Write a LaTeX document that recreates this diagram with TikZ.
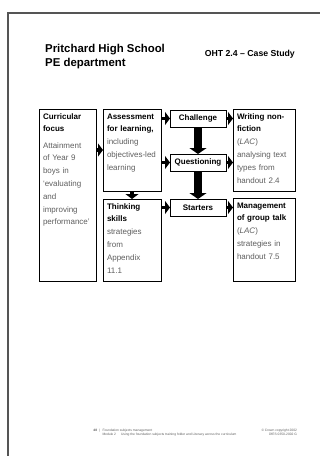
\documentclass[tikz,border=0pt]{standalone}
\usepackage{fontspec}
\setmainfont{Liberation Sans}
\usetikzlibrary{positioning,arrows.meta}
\definecolor{txtgray}{HTML}{5E5E5E}
\definecolor{framegray}{HTML}{555555}
\newcommand\boxhead[1]{\textcolor{black}{\textbf{#1}}}

\begin{document}
\begin{tikzpicture}[
    x=1pt, y=1pt,
    node distance=7pt and 7pt,
 mybox/.style = {
        draw, rectangle, align=left, line width=0.8pt,
        font=\fontsize{8}{12.8}\selectfont, text=txtgray,
        inner xsep=4pt, inner ysep=4pt, outer sep=0pt,
        text height=6pt, anchor=north west},
 midbox/.style = {
        draw, rectangle, align=center, line width=0.8pt,
        font=\fontsize{8}{10}\selectfont\bfseries,
        text width=48pt, minimum height=17pt,
        inner xsep=4pt, inner ysep=0pt, outer sep=0pt},
 foot/.style = {
        font=\fontsize{3.3}{4.2}\selectfont, text=txtgray,
        inner sep=0pt, outer sep=0pt},
 arrow/.style = {line width=3.5pt,-{Triangle[length=5pt,width=13pt]}},
 bigarrow/.style = {line width=8pt,-{Triangle[length=6pt,width=17pt]}}
                    ]
\useasboundingbox (0,0) rectangle (320,-456);
% the frame of the sheet
\draw[framegray, line width=1.5pt] (320,-13) -- (8,-13) -- (8,-456);
% the titles
\node (title) [anchor=north west, align=left, inner sep=0pt,
        font=\fontsize{11.4}{13.8}\selectfont\bfseries] at (45,-44.5)
                {Pritchard High School\\PE department};
\node (oht) [anchor=north east, inner sep=0pt,
        font=\fontsize{8.7}{10}\selectfont\bfseries] at (295,-49.5)
                {OHT 2.4 -- Case Study};
% the column on the left
\node (focus) [mybox, text width=49pt, text depth=158pt] at (39,-109)
                {\boxhead{Curricular}\\ \boxhead{focus}\\[3.5pt]
                 Attainment\\ of Year 9\\ boys in\\ `evaluating\\ and\\
                 improving\\ performance'};
% the second column
\node (afl) [mybox, text width=50pt, text depth=68pt,
        below right=0pt and 7pt of focus.north east]
                {\boxhead{Assessment}\\ \boxhead{for learning,}\\
                 including\\ objectives-led\\ learning};
\node (think) [mybox, text width=50pt, text depth=68pt, below=8pt of afl]
                {\boxhead{Thinking}\\ \boxhead{skills}\\ strategies\\
                 from\\ Appendix\\ 11.1};
% the chain in the center
\node (chal)  [midbox, below right=1pt and 9pt of afl.north east] {Challenge};
\node (quest) [midbox, below=27pt of chal]  {Questioning};
\node (start) [midbox, below=28pt of quest] {Starters};
% the column on the right
\node (write) [mybox, text width=54pt, text depth=68pt,
        below right=0pt and 72pt of afl.north east]
                {\boxhead{Writing non-}\\ \boxhead{fiction}\\
                 (\textit{LAC})\\ analysing text\\ types from\\ handout 2.4};
\node (mgmt) [mybox, text width=54pt, text depth=69pt, below=7pt of write]
                {\boxhead{Management}\\ \boxhead{of group talk}\\
                 (\textit{LAC})\\ strategies in\\ handout 7.5};
% the arrows
\draw[arrow] (focus.east |- afl.west) -- (afl.west);
\draw[arrow] (afl.east |- chal.west) -- (chal.west);
\draw[arrow] (afl.east |- quest.west) -- (quest.west);
\draw[arrow] (afl.south) -- (think.north);
\draw[arrow] (think.east |- start.west) -- (start.west);
\draw[arrow] (chal.east) -- (chal.east -| write.west);
\draw[arrow] (quest.east) -- (quest.east -| write.west);
\draw[arrow] (start.east) -- (start.east -| mgmt.west);
\draw[bigarrow] (chal.south) -- (quest.north);
\draw[bigarrow] (quest.south) -- (start.north);
% the footer
\node (page) [foot, anchor=north east] at (100,-429) {\textbf{48}\hspace{2pt}|};
\node (module) [foot, anchor=north west, align=left] at (102.5,-429)
                {Foundation subjects management\\
                 Module 2\hspace{5pt}Using the foundation subjects training
                 folder and Literacy across the curriculum};
\node (copy) [foot, anchor=north east, align=right] at (297,-429)
                {\textcopyright{} Crown copyright 2002\\DfES 0350-2002 G};
\end{tikzpicture}
\end{document}
